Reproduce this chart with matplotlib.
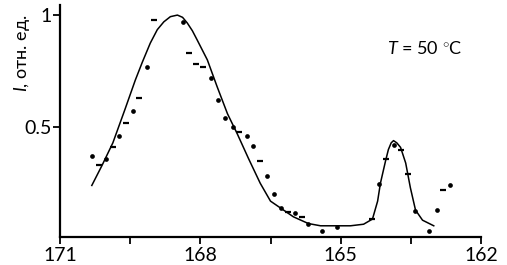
import numpy as np
import matplotlib.pyplot as plt

plt.rcParams['font.family'] = ['Lato', 'DejaVu Sans']
plt.rcParams['mathtext.fontset'] = 'custom'
plt.rcParams['mathtext.rm'] = 'Lato'
plt.rcParams['mathtext.it'] = 'Lato:italic'

# fitted curve
curve_x = [170.32, 170.10, 169.87, 169.61, 169.39, 169.24, 169.07, 168.92, 168.78,
           168.64, 168.49, 168.38, 168.28, 168.17, 168.07, 167.85, 167.64, 167.42,
           167.21, 166.97, 166.72, 166.50, 166.29, 166.01, 165.69, 165.43, 165.10,
           164.79, 164.51, 164.32, 164.21, 164.15, 164.04, 163.98, 163.92, 163.87,
           163.80, 163.72, 163.61, 163.51, 163.40, 163.25, 163.01]
curve_y = [0.24, 0.33, 0.43, 0.58, 0.71, 0.79, 0.875, 0.935, 0.97,
           0.993, 1.00, 0.99, 0.965, 0.93, 0.89, 0.80, 0.68, 0.56,
           0.47, 0.36, 0.25, 0.17, 0.14, 0.10, 0.07, 0.06, 0.06,
           0.06, 0.067, 0.09, 0.17, 0.25, 0.35, 0.40, 0.43, 0.44,
           0.43, 0.41, 0.34, 0.23, 0.13, 0.085, 0.06]

# experimental points drawn as dots
dot_x = [170.31, 170.02, 169.74, 169.44, 169.14, 168.37, 167.77, 167.62, 167.47,
         167.31, 167.00, 166.87, 166.57, 166.42, 166.27, 165.97, 165.69, 165.39,
         165.07, 164.17, 163.87, 163.42, 163.12, 162.95, 162.67]
dot_y = [0.37, 0.36, 0.46, 0.57, 0.77, 0.97, 0.72, 0.62, 0.54,
         0.50, 0.46, 0.415, 0.28, 0.20, 0.14, 0.115, 0.07, 0.035,
         0.055, 0.245, 0.42, 0.125, 0.035, 0.13, 0.24]

# experimental points drawn as short dashes
dash_x = [170.16, 169.87, 169.59, 169.31, 168.99, 168.24, 168.09, 167.94, 167.17,
          166.72, 166.12, 165.82, 164.32, 164.04, 163.72, 163.55, 162.82]
dash_y = [0.33, 0.41, 0.52, 0.63, 0.98, 0.83, 0.78, 0.77, 0.48,
          0.35, 0.12, 0.10, 0.09, 0.36, 0.40, 0.29, 0.22]

fig = plt.figure(figsize=(5.07, 2.65), dpi=100)
ax = fig.add_axes([60/507, 1-237/265, 421/507, 232/265])

ax.plot(curve_x, curve_y, color='black', lw=1.1)
ax.plot(dot_x, dot_y, 'o', color='black', ms=3.4, mew=0)
ax.plot(dash_x, dash_y, '_', color='black', ms=4.2, mew=1.6)

ax.set_xlim(171, 162)
ax.set_ylim(0.01, 1.045)
ax.set_xticks([171, 168, 165, 162])
ax.set_xticks([169.5, 166.5, 163.5], minor=True)
ax.set_yticks([0.5, 1])
ax.set_yticklabels(['0.5', '1'])

for s in ['top', 'right']:
    ax.spines[s].set_visible(False)
for s in ['left', 'bottom']:
    ax.spines[s].set_linewidth(1.6)
ax.tick_params(which='both', direction='out', length=5, width=1.3, labelsize=14, pad=2)
ax.tick_params(axis='y', pad=1)

fig.text(22/507, 1-53/265, r'$I$, отн. ед.', rotation=90, ha='center', va='center', fontsize=13)
ax.text(425/507, 1-48/265, r'$T$ = 50 $^{\circ}$C', transform=fig.transFigure,
        ha='center', va='center', fontsize=13)

fig.savefig('out.png', dpi=100)
